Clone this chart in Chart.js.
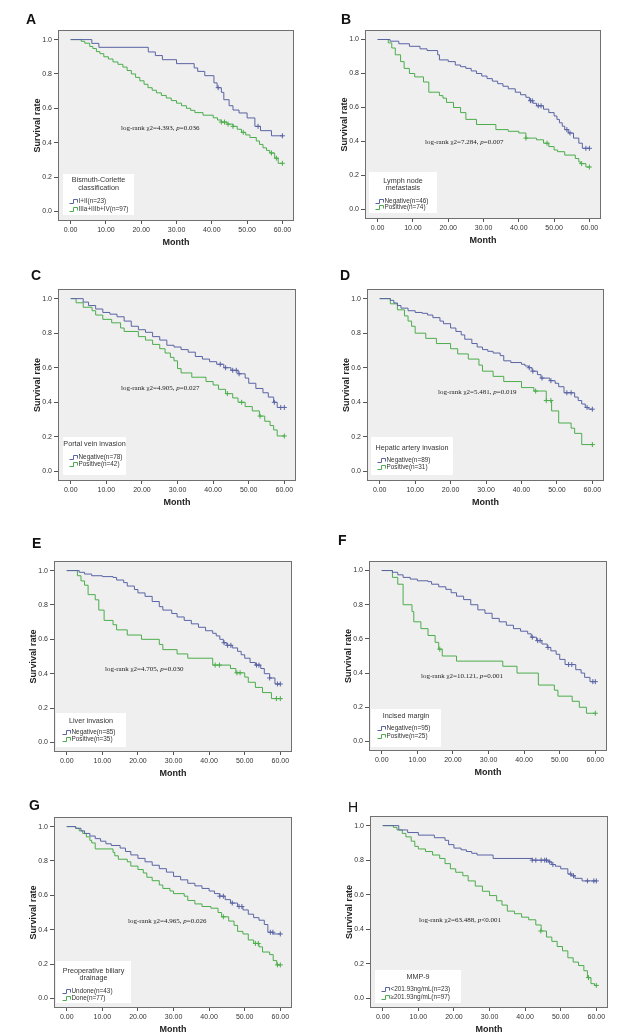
<!DOCTYPE html>
<html>
<head>
<meta charset="utf-8">
<script src="https://cdn.jsdelivr.net/npm/chart.js@4/dist/chart.umd.min.js"></script>
<style>
  body { margin: 0; background: #fff; width: 620px; height: 1036px; position: relative; overflow: hidden; }
  canvas { position: absolute; }
  .letter { position: absolute; font: bold 14px "Liberation Sans", Arial, sans-serif; line-height: 1; color: #111; }
</style>
</head>
<body>
<script>
// axis ticks
const monthTicks = [0, 10, 20, 30, 40, 50, 60];
const rateTicks = [0, 0.2, 0.4, 0.6, 0.8, 1.0];

// A: Bismuth-Corlette classification
const aBlue = [[0,1],[6,0.978],[8,0.955],[22,0.928],[24,0.907],[26,0.883],[30,0.86],[35,0.835],[36,0.815],[38,0.79],[40.6,0.748],[41.5,0.72],[42.7,0.693],[43.4,0.65],[44.9,0.615],[46,0.59],[47.7,0.573],[50,0.544],[52.2,0.495],[53.8,0.47],[56.9,0.44],[60,0.44]];
const aBlueCens = [[41.8,0.72],[53.1,0.495],[60,0.44]];
const aGreen = [[0,1],[3,0.99],[4,0.979],[5.4,0.96],[6.3,0.948],[7.3,0.93],[8.3,0.918],[9.4,0.9],[10.7,0.887],[12,0.87],[13.4,0.856],[14.8,0.84],[16,0.82],[17.2,0.8],[18.4,0.78],[19.6,0.76],[20.8,0.74],[21.9,0.72],[23.1,0.705],[24.3,0.69],[25.7,0.675],[27.1,0.66],[28.5,0.645],[30,0.63],[31.4,0.615],[32.8,0.6],[34,0.588],[35.2,0.575],[37.5,0.56],[40.4,0.545],[41.6,0.532],[42.7,0.52],[44.3,0.508],[46,0.495],[47.2,0.478],[48.4,0.46],[49.6,0.445],[50.8,0.43],[52.6,0.41],[53.5,0.39],[54.5,0.37],[55.5,0.355],[56.4,0.34],[57.8,0.31],[58.8,0.28],[60,0.28]];
const aGreenCens = [[42.7,0.52],[43.6,0.52],[44.6,0.508],[46,0.495],[48.9,0.46],[56.9,0.34],[58.3,0.31],[60,0.28]];
const aLegendTitle = ["Bismuth-Corlette", "classification"];
const aLegend = ["I+II(n=23)", "IIIa+IIIb+IV(n=97)"];
const aStat = ["4.393", "=0.036"];

// B: Lymph node metastasis
const bBlue = [[0,1],[3.5,0.99],[6,0.975],[9,0.96],[12,0.945],[14,0.935],[17,0.91],[17.5,0.88],[20,0.87],[22,0.85],[23.5,0.84],[25,0.83],[26.5,0.815],[28,0.8],[29.5,0.785],[31,0.77],[32.5,0.755],[34,0.74],[35.5,0.725],[37,0.71],[39,0.69],[40.5,0.675],[42,0.66],[43,0.64],[44,0.625],[45,0.61],[47,0.59],[48.5,0.57],[50,0.55],[50.8,0.53],[51.5,0.51],[52.3,0.49],[53,0.47],[54,0.45],[55.5,0.42],[57,0.39],[58,0.36],[60,0.36]];
const bBlueCens = [[43.3,0.64],[43.8,0.64],[45.5,0.61],[46.3,0.61],[53.6,0.47],[54.5,0.45],[59,0.36],[60,0.36]];
const bGreen = [[0,1],[3,0.98],[4,0.95],[5,0.91],[6.5,0.87],[7.5,0.83],[9,0.8],[10.5,0.78],[13,0.75],[14.5,0.69],[17.5,0.67],[18.5,0.655],[19.5,0.63],[21.5,0.6],[23.5,0.57],[25,0.53],[28,0.5],[33.5,0.47],[37,0.46],[40,0.45],[42,0.42],[45,0.41],[47,0.39],[48.5,0.37],[50,0.35],[51,0.34],[53,0.32],[56,0.3],[57,0.28],[57.5,0.27],[59,0.25],[60,0.25]];
const bGreenCens = [[42,0.42],[48,0.39],[57.8,0.27],[60,0.25]];
const bLegendTitle = ["Lymph node", "metastasis"];
const bLegend = ["Negative(n=46)", "Positive(n=74)"];
const bStat = ["7.284", "=0.007"];

// C: Portal vein invasion
const cBlue = [[0,1],[3.5,0.98],[5,0.96],[7,0.94],[9,0.92],[11,0.91],[13,0.895],[15,0.87],[17,0.84],[19,0.82],[21,0.805],[23,0.78],[25,0.76],[27,0.73],[29,0.72],[31,0.705],[33,0.69],[35,0.665],[37,0.65],[39,0.635],[41,0.62],[43,0.6],[45,0.585],[47,0.565],[49,0.54],[50,0.51],[52,0.48],[54,0.455],[55.5,0.43],[57,0.4],[58,0.37],[60,0.37]];
const cBlueCens = [[42,0.62],[43.5,0.6],[45.5,0.585],[46.5,0.585],[47.3,0.565],[57.2,0.4],[59,0.37],[60,0.37]];
const cGreen = [[0,1],[1.5,0.976],[3.5,0.95],[6,0.93],[7,0.905],[9,0.88],[11.5,0.86],[14,0.83],[15,0.81],[19,0.78],[21,0.76],[23,0.735],[25,0.71],[26.5,0.685],[28,0.66],[29,0.64],[30,0.595],[31,0.57],[34,0.545],[38,0.52],[40,0.5],[41.5,0.475],[43.5,0.45],[45.5,0.425],[47,0.4],[49,0.375],[51,0.35],[53,0.32],[54.5,0.29],[56,0.265],[57,0.24],[58,0.205],[60,0.205]];
const cGreenCens = [[44,0.45],[48,0.4],[53.2,0.32],[60,0.205]];
const cLegendTitle = ["Portal vein invasion"];
const cLegend = ["Negative(n=78)", "Positive(n=42)"];
const cStat = ["4.905", "=0.027"];

// D: Hepatic artery invasion
const dBlue = [[0,1],[3,0.99],[4,0.975],[5,0.96],[6,0.945],[8,0.93],[10,0.92],[12,0.915],[13.5,0.905],[15,0.89],[17,0.87],[18,0.855],[20,0.83],[21.5,0.81],[23,0.79],[24,0.765],[26,0.74],[27.5,0.72],[29,0.705],[30.5,0.695],[32,0.685],[34,0.67],[35,0.64],[37,0.63],[40,0.62],[41,0.61],[42,0.6],[43,0.58],[44.5,0.56],[45.5,0.54],[48,0.525],[49.5,0.51],[50.5,0.49],[52,0.455],[55,0.43],[56,0.41],[57,0.39],[58,0.37],[59,0.36],[60,0.36]];
const dBlueCens = [[42.2,0.6],[43.2,0.58],[45.8,0.54],[48.3,0.525],[52.8,0.455],[54,0.455],[58.5,0.37],[60,0.36]];
const dGreen = [[0,1],[3,0.97],[5,0.935],[7,0.9],[8,0.87],[9,0.84],[10,0.8],[13,0.77],[16,0.74],[20,0.71],[22,0.68],[25,0.65],[28,0.615],[29,0.58],[32,0.55],[35,0.52],[40,0.485],[43.5,0.465],[47,0.41],[48.5,0.35],[50.5,0.28],[54,0.25],[55,0.22],[57,0.155],[60,0.155]];
const dGreenCens = [[44,0.465],[47,0.41],[48.3,0.41],[60,0.155]];
const dLegendTitle = ["Hepatic artery invasion"];
const dLegend = ["Negative(n=89)", "Positive(n=31)"];
const dStat = ["5.481", "=0.019"];

// E: Liver invasion
const eBlue = [[0,1],[3.5,0.99],[5,0.98],[7,0.97],[10,0.965],[13,0.96],[14,0.945],[16,0.93],[17,0.91],[19,0.89],[20,0.87],[22,0.85],[24,0.82],[26,0.79],[27,0.77],[29.5,0.75],[31,0.73],[33,0.71],[35,0.69],[37,0.67],[39,0.65],[41,0.635],[42,0.62],[43,0.6],[44,0.58],[45,0.565],[46.5,0.55],[48,0.53],[49,0.51],[50,0.49],[51.5,0.465],[53,0.45],[54.5,0.43],[55.5,0.4],[57,0.375],[58.5,0.34],[60,0.34]];
const eBlueCens = [[44.2,0.58],[45.2,0.565],[46.1,0.565],[53.3,0.45],[54,0.45],[57,0.375],[59.2,0.34],[60,0.34]];
const eGreen = [[0,1],[3,0.97],[4,0.94],[5,0.915],[6,0.86],[8,0.83],[9,0.77],[10.5,0.71],[13,0.685],[14,0.655],[17,0.625],[21,0.6],[26,0.57],[27,0.54],[31,0.515],[34,0.49],[41,0.45],[46,0.43],[47.5,0.405],[50,0.38],[51,0.35],[53,0.32],[55,0.29],[57.5,0.255],[60,0.255]];
const eGreenCens = [[41.7,0.45],[42.9,0.45],[47.8,0.405],[48.7,0.405],[58.9,0.255],[60,0.255]];
const eLegendTitle = ["Liver invasion"];
const eLegend = ["Negative(n=85)", "Positive(n=35)"];
const eStat = ["4.705", "=0.030"];

// F: Incised margin
const fBlue = [[0,1],[3,0.99],[4.5,0.975],[6,0.96],[8,0.95],[10,0.94],[13,0.935],[14,0.92],[16,0.905],[18,0.89],[19.5,0.87],[21,0.85],[23,0.83],[25,0.8],[27,0.77],[29,0.75],[31,0.72],[33,0.7],[35,0.68],[37,0.66],[39,0.645],[41,0.63],[42,0.61],[43.5,0.59],[45,0.57],[46.5,0.55],[47.5,0.53],[49,0.51],[50,0.48],[51.5,0.45],[54.5,0.42],[56,0.4],[57,0.375],[58.5,0.35],[60,0.35]];
const fBlueCens = [[42.3,0.61],[43.8,0.59],[44.5,0.59],[46.7,0.55],[52.5,0.45],[53.4,0.45],[59.3,0.35],[60,0.35]];
const fGreen = [[0,1],[3,0.96],[4.5,0.92],[6,0.8],[8.5,0.76],[9,0.7],[11,0.66],[13,0.62],[15,0.58],[16,0.54],[17,0.5],[21,0.47],[34,0.44],[38,0.4],[44,0.33],[48.5,0.3],[49.5,0.265],[53.5,0.235],[55.5,0.2],[57.5,0.165],[60,0.165]];
const fGreenCens = [[16.3,0.54],[60,0.165]];
const fLegendTitle = ["Incised margin"];
const fLegend = ["Negative(n=95)", "Positive(n=25)"];
const fStat = ["10.121", "=0.001"];

// G: Preoperative biliary drainage
const gBlue = [[0,1],[2.5,0.99],[4,0.975],[5,0.96],[6.5,0.945],[8,0.93],[9.5,0.915],[11,0.9],[12.5,0.89],[15,0.875],[16.5,0.855],[18,0.835],[20,0.815],[22,0.795],[24,0.775],[26,0.755],[28,0.735],[30,0.71],[32,0.69],[34,0.67],[36,0.655],[38,0.64],[40,0.625],[41.5,0.61],[43,0.595],[44.5,0.575],[46,0.555],[48,0.535],[49.5,0.515],[51,0.49],[52.5,0.47],[54,0.455],[55.5,0.43],[56.5,0.385],[58,0.375],[60,0.375]];
const gBlueCens = [[43,0.595],[44,0.595],[46.5,0.555],[48.4,0.535],[49.2,0.535],[57.2,0.385],[57.9,0.385],[60,0.375]];
const gGreen = [[0,1],[2.5,0.99],[3.5,0.975],[4.5,0.96],[5.5,0.94],[6.5,0.92],[7,0.905],[8,0.87],[13,0.85],[13.5,0.83],[14.5,0.81],[17,0.795],[18,0.77],[20,0.75],[21.5,0.73],[22.5,0.705],[24,0.685],[26,0.66],[27,0.64],[29,0.625],[30,0.61],[33,0.595],[34,0.57],[36,0.55],[38,0.535],[40.5,0.525],[42.5,0.5],[43.5,0.475],[45.5,0.45],[47,0.425],[48,0.39],[49.5,0.375],[51,0.34],[52.5,0.32],[54,0.3],[55,0.27],[57,0.255],[58,0.22],[59,0.195],[60,0.195]];
const gGreenCens = [[44,0.475],[53,0.32],[53.8,0.32],[59.2,0.195],[60,0.195]];
const gLegendTitle = ["Preoperative biliary", "drainage"];
const gLegend = ["Undone(n=43)", "Done(n=77)"];
const gStat = ["4.965", "=0.026"];

// H: MMP-9
const hBlue = [[0,1],[4.5,0.975],[7,0.96],[10,0.945],[14.5,0.93],[17.5,0.915],[18.5,0.89],[20,0.87],[22,0.86],[23.5,0.85],[25,0.84],[26.5,0.83],[31,0.81],[42,0.8],[46.5,0.79],[47.5,0.775],[48.5,0.765],[50,0.75],[52,0.72],[53,0.71],[54,0.695],[56,0.68],[60,0.68]];
const hBlueCens = [[42,0.8],[43,0.8],[44.5,0.8],[45.5,0.8],[46,0.8],[46.9,0.79],[47.8,0.775],[52.8,0.72],[53.6,0.71],[57.5,0.68],[59.3,0.68],[60,0.68]];
const hGreen = [[0,1],[3,0.99],[4,0.975],[5.5,0.955],[6.5,0.935],[8,0.91],[9,0.88],[10,0.865],[12,0.85],[14,0.83],[16,0.81],[17.5,0.78],[19,0.75],[20.5,0.73],[22.5,0.71],[24,0.68],[26,0.65],[28,0.62],[30,0.595],[32,0.565],[33.5,0.54],[35,0.505],[37,0.49],[39,0.47],[41,0.455],[43,0.425],[44.5,0.39],[46,0.355],[47.5,0.33],[49,0.3],[50.5,0.275],[52,0.235],[53.5,0.21],[55,0.19],[56.5,0.16],[57.5,0.12],[58.5,0.085],[59.5,0.075],[60,0.075]];
const hGreenCens = [[44.4,0.39],[57.8,0.12],[60,0.075]];
const hLegendTitle = ["MMP-9"];
const hLegend = ["<201.93ng/mL(n=23)", "\u2265201.93ng/mL(n=97)"];
const hStat = ["63.488", "<0.001"];

const BLUE = "#5a64a4";
const GREEN = "#4cad4c";
const SANS = "'Liberation Sans', Arial, sans-serif";
const SERIF = "'Liberation Serif', 'Times New Roman', serif";

// box = plot frame on the page; legend / stat positions are relative to the frame
const panels = [
  { letter: "A", lx: 26, ly: 12, bold: true, box: [59, 31, 293, 220], blue: aBlue, blueCens: aBlueCens, green: aGreen, greenCens: aGreenCens,
    title: aLegendTitle, labels: aLegend, stat: aStat, leg: [4, 143, 71, 41], titleY: [149, 157], entryY: [170, 178], statAt: [62, 97] },
  { letter: "B", lx: 341, ly: 12, bold: true, box: [366, 31, 600, 218], blue: bBlue, blueCens: bBlueCens, green: bGreen, greenCens: bGreenCens,
    title: bLegendTitle, labels: bLegend, stat: bStat, leg: [3, 141, 68, 41], titleY: [150, 157], entryY: [170, 176], statAt: [59, 111] },
  { letter: "C", lx: 31, ly: 268, bold: true, box: [59, 290, 295, 480], blue: cBlue, blueCens: cBlueCens, green: cGreen, greenCens: cGreenCens,
    title: cLegendTitle, labels: cLegend, stat: cStat, leg: [4, 147, 63, 38], titleY: [154], entryY: [167, 174], statAt: [62, 98] },
  { letter: "D", lx: 340, ly: 268, bold: true, box: [368, 290, 603, 480], blue: dBlue, blueCens: dBlueCens, green: dGreen, greenCens: dGreenCens,
    title: dLegendTitle, labels: dLegend, stat: dStat, leg: [3, 147, 82, 38], titleY: [158], entryY: [170, 177], statAt: [70, 102] },
  { letter: "E", lx: 32, ly: 536, bold: true, box: [55, 562, 291, 751], blue: eBlue, blueCens: eBlueCens, green: eGreen, greenCens: eGreenCens,
    title: eLegendTitle, labels: eLegend, stat: eStat, leg: [1, 151, 70, 34], titleY: [159], entryY: [170, 177], statAt: [50, 107] },
  { letter: "F", lx: 338, ly: 533, bold: true, box: [370, 562, 606, 750], blue: fBlue, blueCens: fBlueCens, green: fGreen, greenCens: fGreenCens,
    title: fLegendTitle, labels: fLegend, stat: fStat, leg: [1, 147, 70, 38], titleY: [154], entryY: [166, 174], statAt: [51, 114] },
  { letter: "G", lx: 29, ly: 798, bold: true, box: [55, 818, 291, 1007], blue: gBlue, blueCens: gBlueCens, green: gGreen, greenCens: gGreenCens,
    title: gLegendTitle, labels: gLegend, stat: gStat, leg: [1, 143, 75, 42], titleY: [153, 160], entryY: [173, 180], statAt: [73, 103] },
  { letter: "H", lx: 348, ly: 800, bold: false, box: [371, 817, 607, 1007], blue: hBlue, blueCens: hBlueCens, green: hGreen, greenCens: hGreenCens,
    title: hLegendTitle, labels: hLegend, stat: hStat, leg: [4, 153, 86, 33], titleY: [160], entryY: [172, 180], statAt: [48, 103] }
];

const Y_AXIS_W = 32;
const X_AXIS_H = 30;
const PAD_TOP = 10;
const PAD_RIGHT = 10;

function toXY(rows) {
  return rows.map(r => ({ x: r[0], y: r[1] }));
}

function decorPlugin(p) {
  return {
    id: "kmDecor",
    beforeDraw(chart) {
      const { ctx, chartArea: a } = chart;
      ctx.save();
      ctx.fillStyle = "#efefef";
      ctx.fillRect(a.left, a.top, a.right - a.left, a.bottom - a.top);
      ctx.restore();
    },
    afterDraw(chart) {
      const { ctx, chartArea: a } = chart;
      ctx.save();
      ctx.strokeStyle = "#707070";
      ctx.lineWidth = 1;
      ctx.strokeRect(a.left - 0.5, a.top - 0.5, a.right - a.left + 1, a.bottom - a.top + 1);

      // log-rank statistic
      ctx.fillStyle = "#222";
      ctx.textBaseline = "middle";
      ctx.textAlign = "left";
      let sx = a.left + p.statAt[0];
      const sy = a.top + p.statAt[1];
      const first = "log-rank \u03c72=" + p.stat[0] + ", ";
      ctx.font = "7px " + SERIF;
      ctx.fillText(first, sx, sy);
      sx += ctx.measureText(first).width;
      ctx.font = "italic 7px " + SERIF;
      ctx.fillText("p", sx, sy);
      sx += ctx.measureText("p").width;
      ctx.font = "7px " + SERIF;
      ctx.fillText(p.stat[1], sx, sy);

      // legend box
      const [lx, ly, lw, lh] = p.leg;
      const x0 = a.left + lx, y0 = a.top + ly;
      ctx.fillStyle = "#fff";
      ctx.fillRect(x0, y0, lw, lh);
      ctx.fillStyle = "#333";
      ctx.textAlign = "center";
      ctx.font = "7.2px " + SANS;
      p.title.forEach((s, i) => ctx.fillText(s, x0 + lw / 2, a.top + p.titleY[i]));
      ctx.textAlign = "left";
      ctx.font = "6.4px " + SANS;
      [BLUE, GREEN].forEach((c, i) => {
        const y = Math.round(a.top + p.entryY[i]) + 0.5;
        const ex = Math.round(x0 + 6) + 0.5;
        ctx.strokeStyle = c;
        ctx.beginPath();
        ctx.moveTo(ex, y + 2);
        ctx.lineTo(ex + 4, y + 2);
        ctx.lineTo(ex + 4, y - 2);
        ctx.lineTo(ex + 8, y - 2);
        ctx.lineTo(ex + 8, y + 1);
        ctx.stroke();
        ctx.fillText(p.labels[i], ex + 9, y);
      });
      ctx.restore();
    }
  };
}

function createKmChart(p) {
  const [l, t, r, b] = p.box;
  const w = r - l + Y_AXIS_W + PAD_RIGHT;
  const h = b - t + PAD_TOP + X_AXIS_H;
  const canvas = document.createElement("canvas");
  canvas.width = w;
  canvas.height = h;
  canvas.style.left = (l - Y_AXIS_W) + "px";
  canvas.style.top = (t - PAD_TOP) + "px";
  canvas.style.width = w + "px";
  canvas.style.height = h + "px";
  document.body.appendChild(canvas);

  const letter = document.createElement("div");
  letter.className = "letter";
  letter.textContent = p.letter;
  letter.style.left = p.lx + "px";
  letter.style.top = p.ly + "px";
  if (!p.bold) letter.style.fontWeight = "normal";
  document.body.appendChild(letter);

  const stepLine = (data, color) => ({
    data: toXY(data), borderColor: color, borderWidth: 1, stepped: "before",
    pointRadius: 0, fill: false
  });
  const censor = (data, color) => ({
    data: toXY(data), borderColor: color, backgroundColor: color, borderWidth: 1,
    showLine: false, pointStyle: "cross", pointRadius: 2.5, pointHoverRadius: 0
  });

  return new Chart(canvas.getContext("2d"), {
    type: "line",
    data: {
      datasets: [
        stepLine(p.blue, BLUE),
        stepLine(p.green, GREEN),
        censor(p.blueCens, BLUE),
        censor(p.greenCens, GREEN)
      ]
    },
    options: {
      responsive: false,
      animation: false,
      devicePixelRatio: 1,
      layout: { padding: { left: 0, top: PAD_TOP, right: PAD_RIGHT, bottom: 0 } },
      plugins: { legend: { display: false }, tooltip: { enabled: false } },
      scales: {
        x: {
          type: "linear", min: -3.3, max: 63,
          afterBuildTicks: s => { s.ticks = monthTicks.map(v => ({ value: v })); },
          afterFit: s => { s.height = X_AXIS_H; },
          border: { display: false },
          grid: { drawOnChartArea: false, drawTicks: true, tickLength: 4, color: "#555" },
          ticks: { callback: v => Number(v).toFixed(2), autoSkip: false, maxRotation: 0, padding: 2,
                   color: "#333", font: { size: 7, family: SANS } },
          title: { display: true, text: "Month", color: "#222", padding: { top: 0, bottom: 2 },
                   font: { size: 9, weight: "bold", family: SANS } }
        },
        y: {
          type: "linear", min: -0.05, max: 1.05,
          afterBuildTicks: s => { s.ticks = rateTicks.map(v => ({ value: v })); },
          afterFit: s => { s.width = Y_AXIS_W; },
          border: { display: false },
          grid: { drawOnChartArea: false, drawTicks: true, tickLength: 5, color: "#555" },
          ticks: { callback: v => Number(v).toFixed(1), padding: 2, color: "#333",
                   font: { size: 7, family: SANS } },
          title: { display: true, text: "Survival rate", color: "#222", padding: { top: 5, bottom: 0 },
                   font: { size: 9, weight: "bold", family: SANS } }
        }
      }
    },
    plugins: [decorPlugin(p)]
  });
}

panels.forEach(createKmChart);
</script>
</body>
</html>
